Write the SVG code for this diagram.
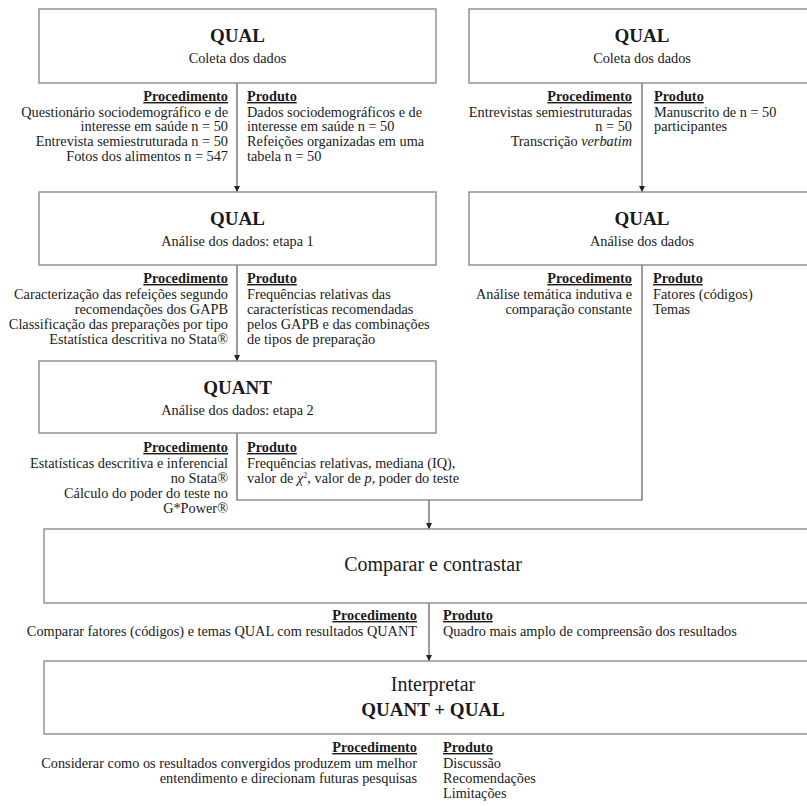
<svg xmlns="http://www.w3.org/2000/svg" width="807" height="806" viewBox="0 0 807 806">
<style>
  text { font-family: "Liberation Serif", "Times New Roman", serif; fill: #1a1a1a; font-size: 14.3px; }
  .box { fill: #ffffff; stroke: #8a8a8a; stroke-width: 1.4; }
  .title { font-weight: bold; font-size: 19px; text-anchor: middle; }
  .sub { text-anchor: middle; }
  .big { font-size: 20px; text-anchor: middle; }
  .hdr { font-weight: bold; text-decoration: underline; }
  .r { text-anchor: end; }
  .conn { fill: none; stroke: #5a5a5a; stroke-width: 1.2; }
</style>
<defs>
  <marker id="ah" markerUnits="userSpaceOnUse" markerWidth="6" markerHeight="6" refX="6" refY="3" orient="auto" viewBox="0 0 6 6">
    <path d="M0,0 L6,3 L0,6 z" fill="#222"/>
  </marker>
</defs>
<rect x="0" y="0" width="807" height="806" fill="#ffffff"/>

<g id="connectors">
  <line class="conn" x1="237" y1="83" x2="237" y2="192" marker-end="url(#ah)"/>
  <line class="conn" x1="642" y1="83" x2="642" y2="192" marker-end="url(#ah)"/>
  <line class="conn" x1="237" y1="265" x2="237" y2="361" marker-end="url(#ah)"/>
  <polyline class="conn" points="237,433 237,500 642,500 642,265"/>
  <line class="conn" x1="429" y1="500" x2="429" y2="529" marker-end="url(#ah)"/>
  <line class="conn" x1="429" y1="603" x2="429" y2="661" marker-end="url(#ah)"/>
</g>

<g id="qual-coleta-left">
  <rect class="box" x="39" y="9" width="397" height="74"/>
  <text class="title" x="237.5" y="42">QUAL</text>
  <text class="sub" x="237.5" y="63">Coleta dos dados</text>
  <text class="hdr r" x="228" y="101">Procedimento</text>
  <text class="r" x="228" y="116.5">Questionário sociodemográfico e de</text>
  <text class="r" x="228" y="131.3">interesse em saúde n = 50</text>
  <text class="r" x="228" y="146.1">Entrevista semiestruturada n = 50</text>
  <text class="r" x="228" y="160.9">Fotos dos alimentos n = 547</text>
  <text class="hdr" x="247" y="101">Produto</text>
  <text x="247" y="116.5">Dados sociodemográficos e de</text>
  <text x="247" y="131.3">interesse em saúde n = 50</text>
  <text x="247" y="146.1">Refeições organizadas em uma</text>
  <text x="247" y="160.9">tabela n = 50</text>
</g>

<g id="qual-coleta-right">
  <rect class="box" x="469" y="9" width="350" height="74"/>
  <text class="title" x="642" y="42">QUAL</text>
  <text class="sub" x="642" y="63">Coleta dos dados</text>
  <text class="hdr r" x="632" y="101">Procedimento</text>
  <text class="r" x="632" y="116.5">Entrevistas semiestruturadas</text>
  <text class="r" x="632" y="131.3">n = 50</text>
  <text class="r" x="632" y="146.1">Transcrição <tspan font-style="italic">verbatim</tspan></text>
  <text class="hdr" x="654" y="101">Produto</text>
  <text x="654" y="116.5">Manuscrito de n = 50</text>
  <text x="654" y="131.3">participantes</text>
</g>

<g id="qual-analise-1">
  <rect class="box" x="39" y="192" width="397" height="73"/>
  <text class="title" x="237.5" y="225">QUAL</text>
  <text class="sub" x="237.5" y="246">Análise dos dados: etapa 1</text>
  <text class="hdr r" x="228" y="283">Procedimento</text>
  <text class="r" x="228" y="299">Caracterização das refeições segundo</text>
  <text class="r" x="228" y="314">recomendações dos GAPB</text>
  <text class="r" x="228" y="329">Classificação das preparações por tipo</text>
  <text class="r" x="228" y="344">Estatística descritiva no Stata®</text>
  <text class="hdr" x="247" y="283">Produto</text>
  <text x="247" y="299">Frequências relativas das</text>
  <text x="247" y="314">características recomendadas</text>
  <text x="247" y="329">pelos GAPB e das combinações</text>
  <text x="247" y="344">de tipos de preparação</text>
</g>

<g id="qual-analise-right">
  <rect class="box" x="469" y="192" width="350" height="73"/>
  <text class="title" x="642" y="225">QUAL</text>
  <text class="sub" x="642" y="246">Análise dos dados</text>
  <text class="hdr r" x="632" y="283">Procedimento</text>
  <text class="r" x="632" y="299">Análise temática indutiva e</text>
  <text class="r" x="632" y="314">comparação constante</text>
  <text class="hdr" x="653" y="283">Produto</text>
  <text x="653" y="299">Fatores (códigos)</text>
  <text x="653" y="314">Temas</text>
</g>

<g id="quant-analise-2">
  <rect class="box" x="39" y="361" width="397" height="72"/>
  <text class="title" x="237.5" y="394">QUANT</text>
  <text class="sub" x="237.5" y="415">Análise dos dados: etapa 2</text>
  <text class="hdr r" x="228" y="452">Procedimento</text>
  <text class="r" x="228" y="468">Estatísticas descritiva e inferencial</text>
  <text class="r" x="228" y="483">no Stata®</text>
  <text class="r" x="228" y="498">Cálculo do poder do teste no</text>
  <text class="r" x="228" y="513">G*Power®</text>
  <text class="hdr" x="247" y="452">Produto</text>
  <text x="247" y="468">Frequências relativas, mediana (IQ),</text>
  <text x="247" y="483">valor de <tspan font-style="italic">χ</tspan><tspan font-size="8" dy="-5">2</tspan><tspan dy="5">,  valor de </tspan><tspan font-style="italic">p</tspan>, poder do teste</text>
</g>

<g id="comparar">
  <rect class="box" x="44" y="529" width="778" height="74"/>
  <text class="big" x="433" y="571">Comparar e contrastar</text>
  <text class="hdr r" x="417" y="620">Procedimento</text>
  <text class="r" x="417" y="636">Comparar fatores (códigos) e temas QUAL com resultados QUANT</text>
  <text class="hdr" x="443" y="620">Produto</text>
  <text x="443" y="636">Quadro mais amplo de compreensão dos resultados</text>
</g>

<g id="interpretar">
  <rect class="box" x="44" y="661" width="778" height="73"/>
  <text class="big" x="433" y="691" font-size="18px">Interpretar</text>
  <text class="title" x="433" y="716" font-size="20px">QUANT + QUAL</text>
  <text class="hdr r" x="417" y="752">Procedimento</text>
  <text class="r" x="417" y="768">Considerar como os resultados convergidos produzem um melhor</text>
  <text class="r" x="417" y="783">entendimento e direcionam futuras pesquisas</text>
  <text class="hdr" x="443" y="752">Produto</text>
  <text x="443" y="768">Discussão</text>
  <text x="443" y="783">Recomendações</text>
  <text x="443" y="798">Limitações</text>
</g>
</svg>
